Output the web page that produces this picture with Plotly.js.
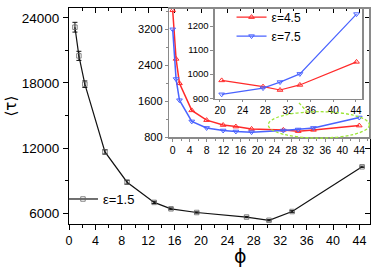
<!DOCTYPE html>
<html>
<head>
<meta charset="utf-8">
<script src="https://cdn.plot.ly/plotly-3.0.1.min.js"></script>
<style>html,body{margin:0;padding:0;background:#fff;}#chart{width:374px;height:270px;}</style>
</head>
<body>
<div id="chart"></div>
<script>
// Main panel: epsilon = 1.5
const phiMain = [0.9, 1.5, 2.4, 5.45, 8.8, 12.9, 15.45, 19.35, 26.9, 30.3, 33.8, 44.4];
const tau15 = [23130, 20490, 17880, 11640, 8850, 6990, 6400, 6060, 5640, 5340, 6150, 10270];
const err15 = [450, 420, 300, 200, 180, 100, 80, 60, 60, 60, 80, 60];

// Inset: epsilon = 4.5 and 7.5
const phiInset = [0, 0.8, 1.6, 4.5, 8, 11.9, 14.9, 18.6, 26.1, 29.6, 33.2, 44];
const tau45 = [3630, 2544, 1999, 1395, 1177, 1068, 1033, 981, 959, 931, 959, 1055];
const tau75 = [3205, 2095, 1622, 1149, 1003, 946, 924, 909, 946, 968, 1003, 1236];

// Nested zoom inset
const phiZoom = [20.3, 27.6, 30.6, 34.1, 44.1];
const tau45z = [974, 948, 934, 955, 1051];
const tau75z = [916, 942, 967, 1001, 1250];

const FONT = 'Liberation Sans, Arial, DejaVu Sans, sans-serif';
const RED = '#ff2a2a';
const BLUE = '#4a63ff';
const GRAY = '#8a8a8a';
const GREEN = '#9ee63a';

const traces = [
  {
    x: phiMain, y: tau15, name: '\u03b5=1.5', legend: 'legend',
    mode: 'lines+markers', type: 'scatter',
    line: {color: '#111', width: 1.2},
    marker: {symbol: 'square-open', size: 4.5, color: '#666', line: {width: 0.8}},
    error_y: {type: 'data', array: err15, visible: true, width: 2.5, thickness: 1, color: '#111'},
    hoverinfo: 'skip'
  },
  {
    x: phiInset, y: tau45, xaxis: 'x2', yaxis: 'y2', showlegend: false,
    mode: 'lines+markers', type: 'scatter',
    line: {color: RED, width: 1.5},
    marker: {symbol: 'triangle-up-open', size: 5, color: RED, line: {width: 1}},
    hoverinfo: 'skip'
  },
  {
    x: phiInset, y: tau75, xaxis: 'x2', yaxis: 'y2', showlegend: false,
    mode: 'lines+markers', type: 'scatter',
    line: {color: BLUE, width: 1.5},
    marker: {symbol: 'triangle-down-open', size: 5, color: BLUE, line: {width: 1}},
    hoverinfo: 'skip'
  },
  {
    x: phiZoom, y: tau45z, xaxis: 'x3', yaxis: 'y3', name: '\u03b5=4.5', legend: 'legend2',
    mode: 'lines+markers', type: 'scatter',
    line: {color: RED, width: 1.2},
    marker: {symbol: 'triangle-up-open', size: 5, color: RED, line: {width: 1}},
    hoverinfo: 'skip'
  },
  {
    x: phiZoom, y: tau75z, xaxis: 'x3', yaxis: 'y3', name: '\u03b5=7.5', legend: 'legend2',
    mode: 'lines+markers', type: 'scatter',
    line: {color: BLUE, width: 1.2},
    marker: {symbol: 'triangle-down-open', size: 5, color: BLUE, line: {width: 1}},
    hoverinfo: 'skip'
  },
  // carrier (draws nothing) so the top/right inward tick axes of the main panel exist
  {
    x: phiMain, y: tau15, xaxis: 'x4', yaxis: 'y4', mode: 'none', type: 'scatter',
    showlegend: false, hoverinfo: 'skip'
  }
];

const common = {showgrid: false, zeroline: false, fixedrange: true};

const layout = {
  width: 374, height: 270,
  margin: {l: 69, r: 4, t: 3, b: 46, pad: 0},
  paper_bgcolor: '#fff', plot_bgcolor: 'rgba(0,0,0,0)',
  font: {family: FONT, color: '#000'},
  showlegend: true,
  xaxis: Object.assign({}, common, {
    domain: [0, 1], anchor: 'y', range: [0, 45.6],
    tick0: 0, dtick: 4, ticks: 'outside', ticklen: 5, tickwidth: 1, tickcolor: '#000',
    minor: {dtick: 2, ticks: 'outside', ticklen: 3, tickcolor: '#000'},
    showline: true, mirror: true, linecolor: '#000', linewidth: 1,
    tickfont: {size: 12.5, family: FONT}
  }),
  yaxis: Object.assign({}, common, {
    domain: [0, 1], anchor: 'x', range: [5000, 24900],
    tick0: 0, dtick: 6000, ticks: 'outside', ticklen: 5, tickwidth: 1, tickcolor: '#000',
    minor: {dtick: 3000, ticks: 'outside', ticklen: 3, tickcolor: '#000'},
    showline: true, mirror: true, linecolor: '#000', linewidth: 1,
    tickformat: 'd', ticklabelstandoff: 1,
    tickfont: {size: 13.5, family: FONT}
  }),
  xaxis4: Object.assign({}, common, {
    overlaying: 'x', matches: 'x', side: 'top', anchor: 'y4',
    tick0: 0, dtick: 4, ticks: 'inside', ticklen: 5, tickcolor: '#000',
    minor: {dtick: 2, ticks: 'inside', ticklen: 3, tickcolor: '#000'},
    showticklabels: false, showline: false
  }),
  yaxis4: Object.assign({}, common, {
    overlaying: 'y', matches: 'y', side: 'right', anchor: 'x4',
    tick0: 0, dtick: 6000, ticks: 'inside', ticklen: 5, tickcolor: '#000',
    minor: {dtick: 3000, ticks: 'inside', ticklen: 3, tickcolor: '#000'},
    showticklabels: false, showline: false
  }),
  xaxis2: Object.assign({}, common, {
    domain: [0.3332, 0.9967], anchor: 'y2', range: [-0.8, 46.3],
    tick0: 0, dtick: 4, ticks: 'outside', ticklen: 3, tickcolor: GRAY,
    minor: {dtick: 2, ticks: 'outside', ticklen: 2, tickcolor: GRAY},
    showline: true, mirror: true, linecolor: GRAY, linewidth: 1.5,
    tickfont: {size: 10.5, family: FONT}
  }),
  yaxis2: Object.assign({}, common, {
    domain: [0.4027, 0.9955], anchor: 'x2', range: [800, 3660],
    tick0: 0, dtick: 800, ticks: 'outside', ticklen: 3, tickcolor: GRAY,
    minor: {dtick: 400, ticks: 'outside', ticklen: 2, tickcolor: GRAY},
    showline: true, mirror: true, linecolor: GRAY, linewidth: 1.5,
    tickformat: 'd',
    tickfont: {size: 11, family: FONT}
  }),
  xaxis3: Object.assign({}, common, {
    domain: [0.485, 0.975], anchor: 'y3', range: [19.12, 45.15],
    tick0: 0, dtick: 4, ticks: 'outside', ticklen: 2, tickcolor: GRAY,
    showline: true, mirror: true, linecolor: GRAY, linewidth: 1.5,
    tickfont: {size: 10, family: FONT}
  }),
  yaxis3: Object.assign({}, common, {
    domain: [0.5792, 0.9986], anchor: 'x3', range: [897, 1274],
    tick0: 0, dtick: 100, ticks: 'outside', ticklen: 3, tickcolor: GRAY,
    showline: true, mirror: true, linecolor: GRAY, linewidth: 1.5,
    tickformat: 'd',
    tickfont: {size: 9.5, family: FONT}
  }),
  legend: {
    x: -0.02, y: 0.185, xanchor: 'left', yanchor: 'top',
    bgcolor: 'rgba(0,0,0,0)', borderwidth: 0,
    font: {size: 13, family: FONT}, itemwidth: 30
  },
  legend2: {
    x: 0.54, y: 1.025, xanchor: 'left', yanchor: 'top',
    bgcolor: 'rgba(0,0,0,0)', borderwidth: 0,
    font: {size: 12, family: FONT}, itemwidth: 30, tracegroupgap: 0
  },
  shapes: [
    {type: 'circle', xref: 'paper', yref: 'paper', x0: 0.662, x1: 0.998, y0: 0.398, y1: 0.520,
     line: {color: GREEN, width: 1.3, dash: '3px,2px'}, fillcolor: 'rgba(0,0,0,0)', layer: 'above'},
    {type: 'line', xref: 'paper', yref: 'paper', x0: 0.764, y0: 0.561, x1: 0.791, y1: 0.520,
     line: {color: GREEN, width: 1.3, dash: '3px,2px'}, layer: 'above'}
  ],
  annotations: [
    {text: '\u03d5', xref: 'paper', yref: 'paper', x: 0.571, y: -0.149, xanchor: 'center', yanchor: 'middle',
     showarrow: false, font: {size: 19, family: 'DejaVu Sans, Liberation Sans, sans-serif'}},
    {text: '\u27e8\u03c4\u27e9', xref: 'paper', yref: 'paper', x: -0.192, y: 0.545, xanchor: 'center', yanchor: 'middle',
     textangle: -90, showarrow: false, font: {size: 15, family: 'DejaVu Sans, Liberation Sans, sans-serif'}}
  ]
};

Plotly.newPlot('chart', traces, layout, {staticPlot: true, displayModeBar: false});
</script>
</body>
</html>
